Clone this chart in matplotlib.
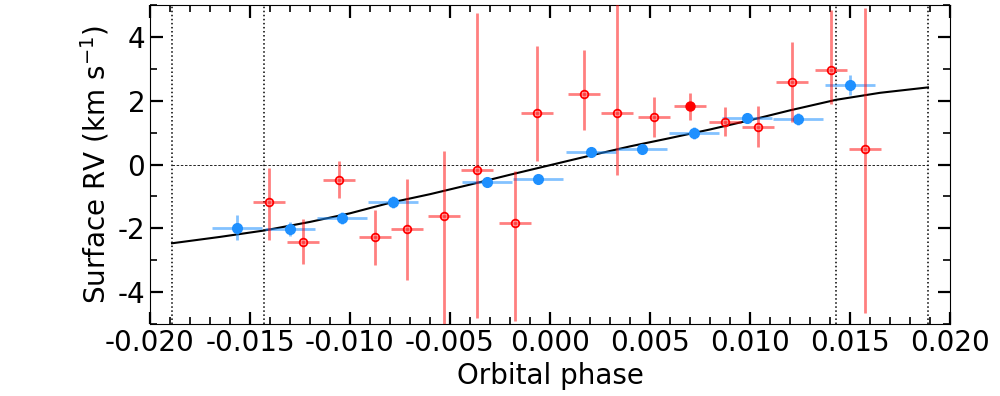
import matplotlib
matplotlib.use('Agg')
import matplotlib.pyplot as plt
from matplotlib.ticker import MultipleLocator, FormatStrFormatter

plt.rcParams['font.family'] = 'DejaVu Sans'
plt.rcParams['font.size'] = 20
plt.rcParams['axes.unicode_minus'] = False

# blue (filled) points
blue_phase = [-0.01563, -0.01298, -0.01038, -0.00783, -0.00313, -0.00058,
              0.00207, 0.00462, 0.00722, 0.00987, 0.01240, 0.01502]
blue_rv = [-1.98, -2.01, -1.67, -1.17, -0.56, -0.45,
           0.40, 0.50, 0.99, 1.46, 1.44, 2.50]
blue_rv_err = [0.39, 0.22, 0.19, 0.19, 0.15, 0.12,
               0.15, 0.15, 0.19, 0.15, 0.19, 0.31]
blue_phase_err = 0.00125

# red (open) points, asymmetric errors
red_phase = [-0.01403, -0.01235, -0.01055, -0.00877, -0.00715, -0.00530,
             -0.00363, -0.00175, -0.00063, 0.00170, 0.00337, 0.00522,
             0.00698, 0.00875, 0.01042, 0.01212, 0.01405, 0.01577]
red_rv = [-1.19, -2.42, -0.48, -2.28, -2.01, -1.63,
          -0.17, -1.84, 1.62, 2.21, 1.62, 1.49,
          1.83, 1.33, 1.19, 2.58, 2.96, 0.50]
red_err_lo = [1.18, 0.70, 0.58, 0.87, 1.62, 4.00,
              4.65, 3.06, 1.52, 1.14, 1.95, 0.64,
              0.42, 0.43, 0.65, 1.26, 1.06, 5.16]
red_err_hi = [1.09, 0.70, 0.58, 0.84, 1.57, 2.07,
              4.91, 1.65, 2.10, 1.38, 3.60, 0.64,
              0.42, 0.46, 0.65, 1.26, 1.88, 4.40]
red_filled = [False] * 12 + [True] + [False] * 5
red_phase_err = 0.0008

# model curve
model_phase = [-0.0189, -0.0165, -0.0143, -0.0120, -0.0100, -0.0080, -0.0060,
               -0.0040, -0.0020, 0.0000, 0.0020, 0.0040, 0.0060, 0.0080,
               0.0100, 0.0120, 0.0143, 0.0165, 0.0189]
model_rv = [-2.47, -2.27, -2.07, -1.80, -1.53, -1.20, -0.93,
            -0.63, -0.32, -0.02, 0.28, 0.57, 0.83, 1.10,
            1.39, 1.70, 2.03, 2.25, 2.42]

# transit contacts
contacts = [-0.0189, -0.0143, 0.0143, 0.0189]

fig = plt.figure(figsize=(10, 3.96), dpi=100)
ax = fig.add_axes([0.15, 0.182, 0.80, 0.805])

for c in contacts:
    ax.axvline(c, color='k', ls=':', lw=1.1, zorder=1)
ax.plot([contacts[0], contacts[-1]], [0, 0], color='k', ls='--', lw=0.6,
        dashes=(3, 2), zorder=1)

ax.plot(model_phase, model_rv, color='k', lw=1.5, zorder=2)

ax.errorbar(blue_phase, blue_rv, xerr=blue_phase_err, yerr=blue_rv_err,
            fmt='none', ecolor='dodgerblue', alpha=0.55, elinewidth=2,
            capsize=0, zorder=3)
ax.plot(blue_phase, blue_rv, 'o', color='dodgerblue', ms=7, zorder=4)

ax.errorbar(red_phase, red_rv, xerr=red_phase_err,
            yerr=[red_err_lo, red_err_hi], fmt='none', ecolor='red',
            alpha=0.5, elinewidth=2, capsize=0, zorder=5)
open_x = [p for p, f in zip(red_phase, red_filled) if not f]
open_y = [v for v, f in zip(red_rv, red_filled) if not f]
fill_x = [p for p, f in zip(red_phase, red_filled) if f]
fill_y = [v for v, f in zip(red_rv, red_filled) if f]
ax.plot(open_x, open_y, 'o', mfc='none', mec='red', mew=1.3, ms=5.5, zorder=6)
ax.plot(fill_x, fill_y, 'o', color='red', ms=6.5, zorder=6)

ax.set_xlim(-0.020, 0.020)
ax.set_ylim(-5, 5)
ax.xaxis.set_major_locator(MultipleLocator(0.005))
ax.xaxis.set_minor_locator(MultipleLocator(0.001))
ax.xaxis.set_major_formatter(FormatStrFormatter('%.3f'))
ax.yaxis.set_major_locator(MultipleLocator(2))
ax.yaxis.set_minor_locator(MultipleLocator(1))
ax.tick_params(which='both', direction='in', top=True, right=True)
ax.tick_params(which='major', length=9, width=1.6)
ax.tick_params(which='minor', length=5, width=1.2)

ax.set_xlabel('Orbital phase')
ax.set_ylabel('Surface RV (km s$^{-1}$)')

fig.savefig('out.png', dpi=100)
